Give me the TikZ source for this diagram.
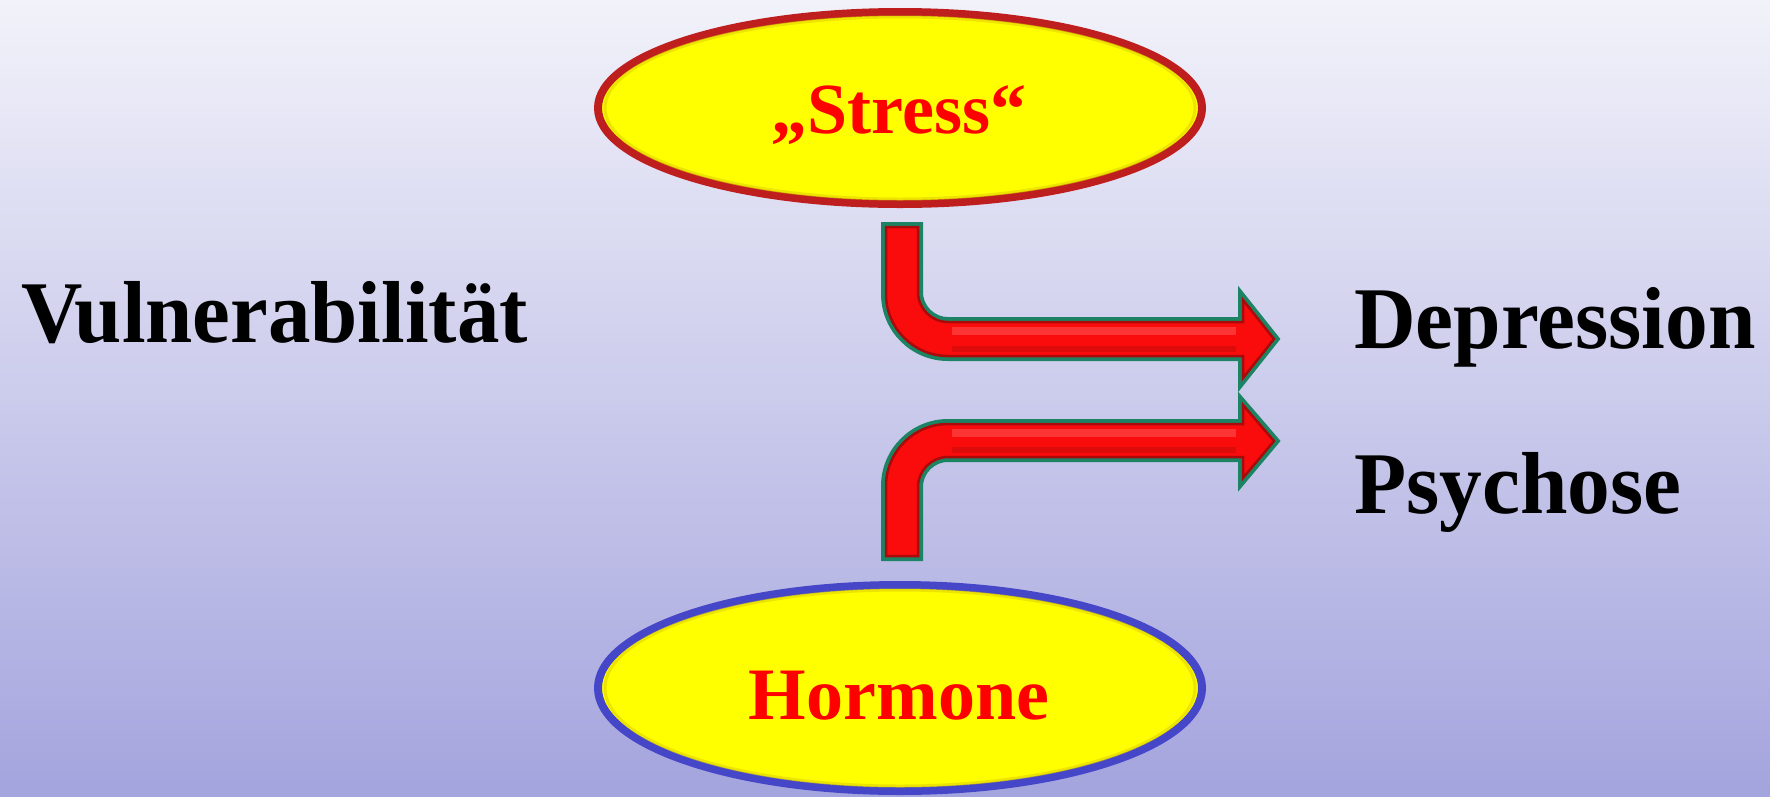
\documentclass[tikz,border=0pt]{standalone}
\usepackage{fontspec}
\setmainfont{Liberation Serif}
\newfontfamily\vulnfont[FakeStretch=0.965]{Liberation Serif}
\newfontfamily\rightfont[FakeStretch=0.97]{Liberation Serif}
\usetikzlibrary{shapes.geometric}
\definecolor{bgtop}{RGB}{242,242,250}
\definecolor{bgbot}{RGB}{164,164,222}
\definecolor{arrowgreen}{RGB}{28,132,100}
\definecolor{arrowred}{RGB}{250,12,12}
\definecolor{arrowdark}{RGB}{170,10,10}
\definecolor{arrowlight}{RGB}{255,70,70}
\definecolor{stressrim}{RGB}{190,30,30}
\definecolor{hormrim}{RGB}{70,70,200}
\definecolor{ovalfill}{RGB}{255,255,0}
\definecolor{ovalshade}{RGB}{225,210,0}
\tikzset{
  oval/.style={ellipse, minimum width=604pt, fill=ovalfill, line width=8pt, inner sep=0pt},
  ovaltext/.style={text=red, anchor=base, inner sep=0pt},
  bigtext/.style={anchor=base west, inner sep=0pt},
  bentarrow/.style={preaction={draw=arrowgreen, line width=10pt}, fill=arrowred, draw=arrowdark, line width=2.5pt, line join=miter},
  arrowshine/.style={draw=arrowlight, opacity=0.7, line width=8pt},
  arrowshadow/.style={draw=arrowdark, opacity=0.35, line width=6pt},
}
\begin{document}
\begin{tikzpicture}[x=1pt,y=-1pt]
\useasboundingbox (0,0) rectangle (1770,796);
\shade[top color=bgtop, bottom color=bgbot] (0,0) rectangle (1770,796);

% ovals
\node[oval, minimum height=192pt, draw=stressrim] (stress) at (900,108) {};
\draw[ovalshade, line width=3pt, opacity=0.6] (stress.center) ellipse [x radius=295pt, y radius=91pt];
\node[ovaltext, font=\bfseries\fontsize{72}{72}\selectfont] (stresstxt) at (899,133) {„Stress“};

\node[oval, minimum height=206pt, draw=hormrim] (hormone) at (900,688) {};
\draw[ovalshade, line width=3pt, opacity=0.6] (hormone.center) ellipse [x radius=295pt, y radius=98pt];
\node[ovaltext, font=\bfseries\fontsize{74}{74}\selectfont] (hormtxt) at (899,719) {Hormone};

% texts
\node[bigtext, font=\vulnfont\bfseries\fontsize{88}{88}\selectfont] (vuln) at (21,342) {Vulnerabilität};
\node[bigtext, font=\rightfont\bfseries\fontsize{88}{88}\selectfont] (depr) at (1354,348) {Depression};
\node[bigtext, font=\rightfont\bfseries\fontsize{88}{88}\selectfont] (psych) at (1354,513) {Psychose};

% arrow reference coordinates
\coordinate (a1tip) at (1274,339);
\coordinate (a2tip) at (1274,441);

% upper arrow: from Stress to Depression
\draw[bentarrow] (886,227) -- (918,227) -- (918,292)
  .. controls (918,308.6) and (931.4,322) .. (948,322)
  -- (1243,322) -- (1243,300) -- (a1tip) -- (1243,378) -- (1243,356)
  -- (948,356) .. controls (913.8,356) and (886,328.2) .. (886,294) -- cycle;
\draw[arrowshine] (952,331) -- (1236,331);
\draw[arrowshadow] (952,349) -- (1236,349);

% lower arrow: from Hormone to Psychose
\draw[bentarrow] (886,556) -- (886,486)
  .. controls (886,451.8) and (913.8,424) .. (948,424)
  -- (1243,424) -- (1243,405) -- (a2tip) -- (1243,478) -- (1243,457)
  -- (948,457) .. controls (931.4,457) and (918,470.4) .. (918,487)
  -- (918,556) -- cycle;
\draw[arrowshine] (952,433) -- (1236,433);
\draw[arrowshadow] (952,450) -- (1236,450);
\end{tikzpicture}
\end{document}
